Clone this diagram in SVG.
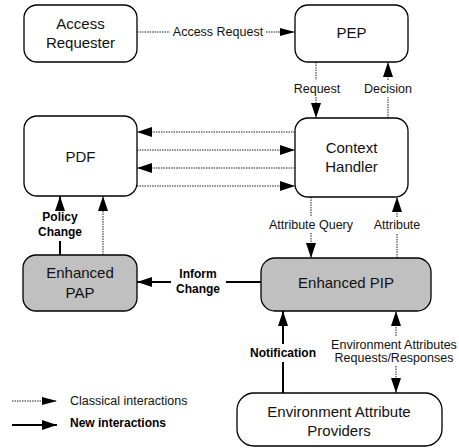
<svg xmlns="http://www.w3.org/2000/svg" width="459" height="448" viewBox="0 0 459 448">
<defs>
<marker id="ah" markerUnits="userSpaceOnUse" markerWidth="15" markerHeight="10" refX="15" refY="5" orient="auto">
<path d="M0,0 L15,5 L0,10 z" fill="#000"/>
</marker>
<marker id="ahs" markerUnits="userSpaceOnUse" markerWidth="15" markerHeight="8" refX="15" refY="4" orient="auto">
<path d="M0,0 L15,4 L0,8 z" fill="#000"/>
</marker>
<style>
.box{fill:#fff;stroke:#000;stroke-width:1.3}
.gbox{fill:#c0c0c0;stroke:#000;stroke-width:1.3}
.nt{font-family:"Liberation Sans",Arial,sans-serif;font-size:15px;fill:#111;text-anchor:middle}
.lb{font-family:"Liberation Sans",Arial,sans-serif;font-size:12.5px;fill:#111;text-anchor:middle}
.bl{font-family:"Liberation Sans",Arial,sans-serif;font-size:12px;font-weight:bold;fill:#000;text-anchor:middle}
.dot{fill:none;stroke:#222;stroke-width:1;stroke-dasharray:1.5 1}
.sol{fill:none;stroke:#000;stroke-width:2}
</style>
</defs>
<rect width="459" height="448" fill="#fff"/>
<g id="connectors">
<!-- Access Request -->
<path class="dot" d="M137,32 H170"/>
<path class="dot" d="M266,32 H295" marker-end="url(#ahs)"/>
<text class="lb" x="218" y="36">Access Request</text>
<!-- Request -->
<path class="dot" d="M316,62 V80"/>
<path class="dot" d="M316,97 V118" marker-end="url(#ah)"/>
<text class="lb" x="317" y="93">Request</text>
<!-- Decision -->
<path class="dot" d="M388,118 V97"/>
<path class="dot" d="M388,80 V62" marker-end="url(#ah)"/>
<text class="lb" x="388" y="93">Decision</text>
<!-- PDF <-> CH -->
<path class="dot" d="M295,132 H137" marker-end="url(#ah)"/>
<path class="dot" d="M137,150 H295" marker-end="url(#ah)"/>
<path class="dot" d="M295,168 H137" marker-end="url(#ah)"/>
<path class="dot" d="M137,186 H295" marker-end="url(#ah)"/>
<!-- Policy Change -->
<path class="sol" d="M60,255 V241"/>
<path class="sol" d="M60,209 V196" marker-end="url(#ah)"/>
<text class="bl" x="60" y="221">Policy</text>
<text class="bl" x="60" y="236">Change</text>
<!-- PAP to PDF dotted -->
<path class="dot" d="M103,255 V196" marker-end="url(#ah)"/>
<!-- Attribute Query -->
<path class="dot" d="M311,197 V217"/>
<path class="dot" d="M311,233 V258" marker-end="url(#ah)"/>
<text class="lb" x="311" y="229">Attribute Query</text>
<!-- Attribute -->
<path class="dot" d="M397,258 V233"/>
<path class="dot" d="M397,217 V197" marker-end="url(#ah)"/>
<text class="lb" x="397" y="229">Attribute</text>
<!-- Inform Change -->
<path class="sol" d="M261,282 H226"/>
<path class="sol" d="M171,282 H137" marker-end="url(#ah)"/>
<text class="bl" x="198" y="278">Inform</text>
<text class="bl" x="198" y="293">Change</text>
<!-- Notification -->
<path class="sol" d="M283,393 V362"/>
<path class="sol" d="M283,344 V311" marker-end="url(#ah)"/>
<text class="bl" x="283" y="357">Notification</text>
<!-- Env attributes -->
<path class="dot" d="M396,336 V311" marker-end="url(#ah)"/>
<path class="dot" d="M396,366 V393" marker-end="url(#ah)"/>
<text class="lb" x="394" y="349">Environment Attributes</text>
<text class="lb" x="394" y="362">Requests/Responses</text>
<!-- Legend -->
<path class="dot" d="M12,401 H57" marker-end="url(#ahs)"/>
<path class="sol" d="M12,425 H57" marker-end="url(#ah)"/>
<text class="lb" x="70" y="405" style="text-anchor:start">Classical interactions</text>
<text class="bl" x="70" y="427" style="text-anchor:start">New interactions</text>
</g>
<g id="access-requester">
<rect class="box" x="24" y="5" width="113" height="57" rx="13"/>
<text class="nt" x="80.5" y="29">Access</text>
<text class="nt" x="80.5" y="48">Requester</text>
</g>
<g id="pep">
<rect class="box" x="295" y="5" width="113" height="57" rx="13"/>
<text class="nt" x="351.5" y="38">PEP</text>
</g>
<g id="pdf">
<rect class="box" x="24" y="116" width="113" height="80" rx="13"/>
<text class="nt" x="80.5" y="162">PDF</text>
</g>
<g id="context-handler">
<rect class="box" x="295" y="118" width="113" height="79" rx="13"/>
<text class="nt" x="351.5" y="153">Context</text>
<text class="nt" x="351.5" y="172">Handler</text>
</g>
<g id="enhanced-pap">
<rect class="gbox" x="23" y="255" width="114" height="56" rx="13"/>
<text class="nt" x="80" y="278">Enhanced</text>
<text class="nt" x="80" y="298">PAP</text>
</g>
<g id="enhanced-pip">
<rect class="gbox" x="261" y="258" width="170" height="53" rx="14"/>
<text class="nt" x="346" y="288">Enhanced PIP</text>
</g>
<g id="environment-attribute-providers">
<rect class="box" x="237" y="393" width="205" height="53" rx="17"/>
<text class="nt" x="339" y="417">Environment Attribute</text>
<text class="nt" x="339" y="436">Providers</text>
</g>
</svg>
